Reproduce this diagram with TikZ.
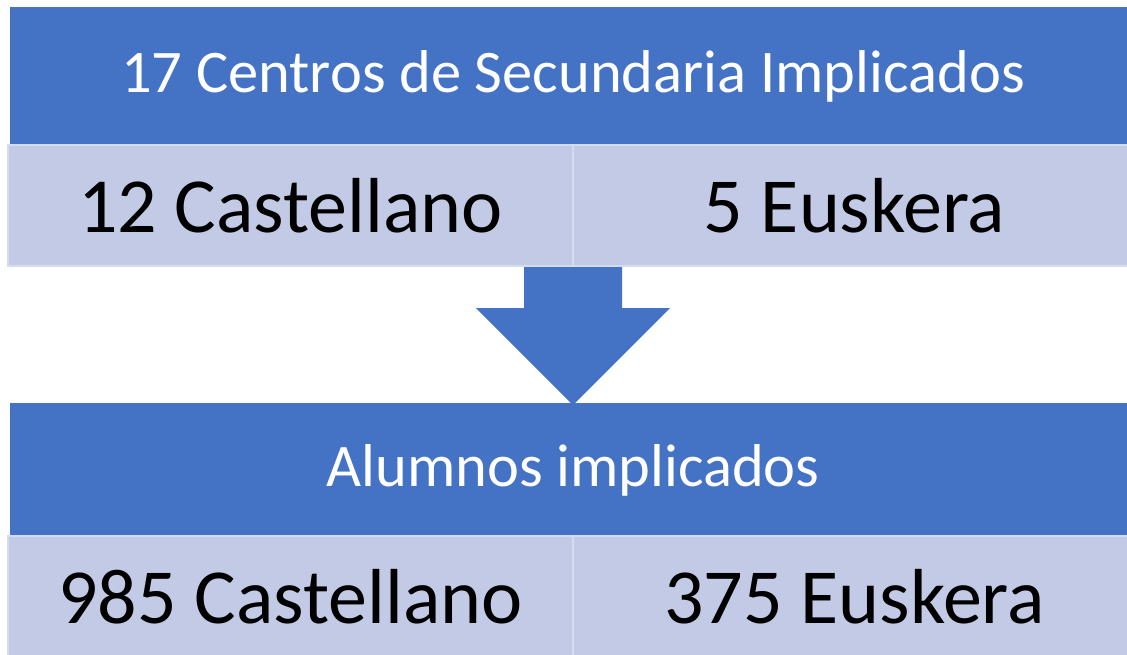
\documentclass[tikz,border=0pt]{standalone}
\usepackage{fontspec}
\setmainfont{Carlito}
\definecolor{hdrblue}{HTML}{4472C4}
\definecolor{cellblue}{HTML}{C2CAE6}
\definecolor{celledge}{HTML}{D6DCEF}
\begin{document}
\begin{tikzpicture}[x=1pt,y=-1pt,
  hdr/.style={fill=hdrblue,draw=none,inner sep=0pt,text=white,
    font=\fontsize{60.5}{70}\selectfont},
  cell/.style={fill=cellblue,draw=celledge,line width=1.5pt,inner sep=0pt,text=black,
    font=\fontsize{78}{90}\selectfont}]
\useasboundingbox (0,0) rectangle (1127,654);
\clip (0,0) rectangle (1127,654);
% top header
\fill[hdrblue] (10,7) rectangle (1140,145);
\node[inner sep=0pt,text=white,font=\fontsize{60.5}{70}\selectfont] (t1) at (573,76) {17 Centros de Secundaria Implicados};
% first row
\draw[cell] (8,145) rectangle (573,266);
\draw[cell] (573,145) rectangle (1140,266);
\node[inner sep=0pt,font=\fontsize{78}{90}\selectfont] (c1) at (290.5,206) {12 Castellano};
\node[inner sep=0pt,font=\fontsize{78}{90}\selectfont] (e1) at (854.5,206) {5 Euskera};
% arrow
\fill[hdrblue] (524,267) -- (622,267) -- (622,308) -- (670,308) -- (573,405) -- (476,308) -- (524,308) -- cycle;
% bottom header
\fill[hdrblue] (10,403) rectangle (1140,536);
\node[inner sep=0pt,text=white,font=\fontsize{60.5}{70}\selectfont] (t2) at (573,470) {Alumnos implicados};
% second row
\draw[cell] (8,536) rectangle (573,660);
\draw[cell] (573,536) rectangle (1140,660);
\node[inner sep=0pt,font=\fontsize{78}{90}\selectfont] (c2) at (290.5,597) {985 Castellano};
\node[inner sep=0pt,font=\fontsize{78}{90}\selectfont] (e2) at (854.5,597) {375 Euskera};
\end{tikzpicture}
\end{document}
